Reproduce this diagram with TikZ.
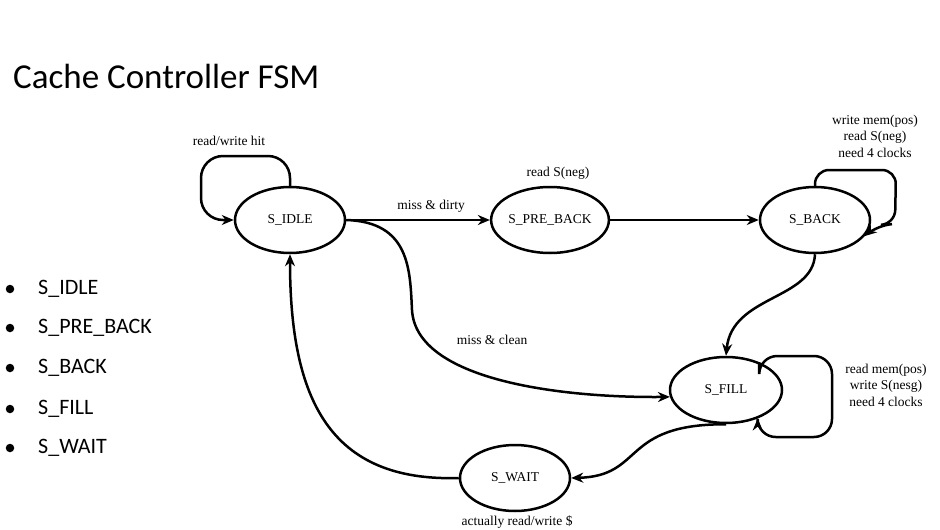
\documentclass[tikz,border=0pt]{standalone}
\usepackage{fontspec}
\setmainfont{Liberation Serif}
\newfontfamily\calib{Carlito}
\usetikzlibrary{shapes.geometric,arrows.meta}
\begin{document}
\begin{tikzpicture}[x=1pt,y=-1pt,
  state/.style={draw,ellipse,line width=2.5pt,minimum width=110pt,minimum height=66pt,inner sep=0pt,font=\fontsize{13.5}{15}\selectfont},
  lbl/.style={font=\fontsize{13.5}{16.5}\selectfont,align=center,inner sep=0pt},
  conn/.style={line width=2.5pt,-{Stealth[length=12pt,width=10pt]}},
  bul/.style={font=\calib\fontsize{22}{26}\selectfont,anchor=west,inner sep=0pt},
  dot/.style={circle,fill,inner sep=0pt,minimum size=8.5pt}]
\useasboundingbox (0,0) rectangle (940,530);
\node[font=\calib\fontsize{35}{40}\selectfont,anchor=west,inner sep=0pt] (title) at (13,76) {Cache Controller FSM};
\foreach \t/\y [count=\i] in {S\_IDLE/289,S\_PRE\_BACK/328,S\_BACK/368,S\_FILL/409,S\_WAIT/448}{
  \node[bul] (b\i) at (38,\y) {\t};
  \node[dot] (d\i) at (10,\y) {};
}
\node[state] (idle) at (290,220) {S\_IDLE};
\node[state,minimum width=106pt] (pre) at (550,220) {S\_PRE\_BACK};
\node[state] (back) at (815,220) {S\_BACK};
\node[state,minimum width=112pt] (fill) at (726,390) {S\_FILL};
\node[state] (wait) at (515,478) {S\_WAIT};
% labels
\node[lbl] (l1) at (229,141) {read/write hit};
\node[lbl] (l2) at (558,173) {read S(neg)};
\node[lbl] (l3) at (431,206) {miss \& dirty};
\node[lbl] (l4) at (875,136) {write mem(pos)\\read S(neg)\\need 4 clocks};
\node[lbl] (l5) at (492,340) {miss \& clean};
\node[lbl] (l6) at (886,385) {read mem(pos)\\write S(nesg)\\need 4 clocks};
\node[lbl] (l7) at (517,522) {actually read/write \$};
% connectors
\draw[conn,rounded corners=22pt] (idle.north) |- (201,156) |- (idle.west);
\draw[conn] (idle.east) -- (pre.west);
\draw[conn] (pre.east) -- (back.west);
\draw[conn,rounded corners=14pt] (back.north) |- (896,170) -- (895,224) -- (878,225) -- (back.-18);
\draw[conn] (back.south) .. controls (813,300) and (732,295) .. (fill.north);
\draw[conn] (idle.east) .. controls (410,222) and (410,270) .. (412,310)
  .. controls (416,380) and (560,398) .. (fill.187);
\draw[conn,rounded corners=18pt] (fill.40) |- (832,356) -- (832,437) -| (fill.-42);
\draw[conn] (fill.south) .. controls (620,424) and (645,476) .. (wait.east);
\draw[conn] (wait.west) .. controls (330,482) and (290,400) .. (idle.south);
\end{tikzpicture}
\end{document}
